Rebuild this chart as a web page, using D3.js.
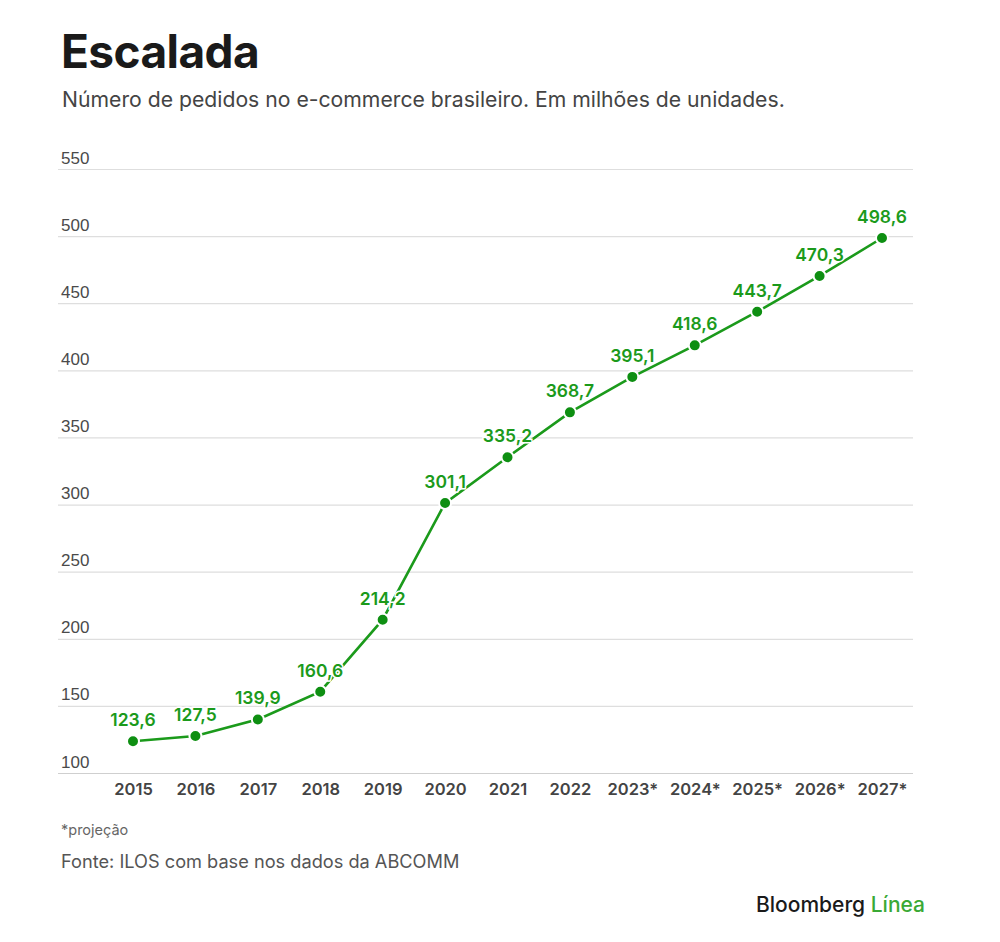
<!DOCTYPE html>
<html>
<head>
<meta charset="utf-8">
<script src="https://cdn.jsdelivr.net/npm/d3@7"></script>
<style>
  html, body { margin: 0; padding: 0; background: #fff; }
  svg { display: block; font-family: Inter, "Noto Sans", sans-serif; }
</style>
</head>
<body>
<svg id="chart" width="1000" height="942"></svg>
<script>
const years = ["2015","2016","2017","2018","2019","2020","2021","2022","2023*","2024*","2025*","2026*","2027*"];
const orders = [123.6,127.5,139.9,160.6,214.2,301.1,335.2,368.7,395.1,418.6,443.7,470.3,498.6];
const valueLabels = ["123,6","127,5","139,9","160,6","214,2","301,1","335,2","368,7","395,1","418,6","443,7","470,3","498,6"];
const yTicks = [100,150,200,250,300,350,400,450,500,550];

const svg = d3.select("#chart");
const green = "#1b9a1b";

const x = d3.scalePoint().domain(years).range([133, 882]);
const y = d3.scaleLinear().domain([100, 550]).range([773, 169]);

// Title and subtitle
svg.append("text").attr("x", 61).attr("y", 68)
  .attr("font-size", 46).attr("font-weight", 700).attr("fill", "#1a1a1a")
  .attr("letter-spacing", -0.6).text("Escalada");
svg.append("text").attr("x", 62).attr("y", 107)
  .attr("font-size", 21.2).attr("fill", "#444")
  .text("Número de pedidos no e-commerce brasileiro. Em milhões de unidades.");

// Y gridlines and labels
const yAxis = d3.axisLeft(y).tickValues(yTicks).tickSize(0).tickFormat(d3.format("d"));
const gy = svg.append("g").call(yAxis);
gy.select(".domain").remove();
gy.selectAll(".tick text").remove();
gy.selectAll(".tick").append("line")
  .attr("x1", 58).attr("x2", 913)
  .attr("stroke", d => d === 100 ? "#cfcfcf" : "#dedede").attr("stroke-width", 1.2);
gy.selectAll(".tick").append("text")
  .attr("x", 61).attr("y", -6)
  .attr("font-size", 17).attr("font-weight", 500).attr("fill", "#4a4a4a")
  .attr("text-anchor", "start").text(d => d);

// X axis labels
const xAxis = d3.axisBottom(x).tickSize(0);
const gx = svg.append("g").attr("transform", "translate(0,773)").call(xAxis);
gx.select(".domain").remove();
gx.selectAll(".tick text").attr("y", 10).attr("dy", "0.71em")
  .attr("font-size", 16.5).attr("font-weight", 600).attr("fill", "#444")
  .attr("font-family", "Inter, sans-serif");

// Line
const data = years.map((yr, i) => ({ yr, v: orders[i], lab: valueLabels[i] }));
const line = d3.line().x(d => x(d.yr)).y(d => y(d.v));
svg.append("path").datum(data).attr("d", line)
  .attr("fill", "none").attr("stroke", green).attr("stroke-width", 2.6);

// Points
svg.selectAll("circle.pt").data(data).join("circle").attr("class", "pt")
  .attr("cx", d => x(d.yr)).attr("cy", d => y(d.v)).attr("r", 6)
  .attr("fill", "#0e8f12").attr("stroke", "#fff").attr("stroke-width", 2);

// Value labels
svg.selectAll("text.val").data(data).join("text").attr("class", "val")
  .attr("x", d => x(d.yr)).attr("y", d => y(d.v) - 15)
  .attr("text-anchor", "middle").attr("font-size", 17.5).attr("font-weight", 600)
  .attr("fill", green).attr("stroke", "#fff").attr("stroke-width", 3)
  .attr("paint-order", "stroke")
  .text(d => d.lab);

// Footnotes
svg.append("text").attr("x", 61).attr("y", 835)
  .attr("font-size", 14.5).attr("fill", "#666").text("*projeção");
svg.append("text").attr("x", 61).attr("y", 868)
  .attr("font-size", 18.2).attr("fill", "#555")
  .text("Fonte: ILOS com base nos dados da ABCOMM");

// Logo
const logo = svg.append("text").attr("x", 925).attr("y", 912)
  .attr("text-anchor", "end").attr("font-size", 21).attr("font-weight", 500);
logo.append("tspan").attr("fill", "#1a1a1a").text("Bloomberg ");
logo.append("tspan").attr("fill", "#3aa935").text("Línea");
</script>
</body>
</html>
